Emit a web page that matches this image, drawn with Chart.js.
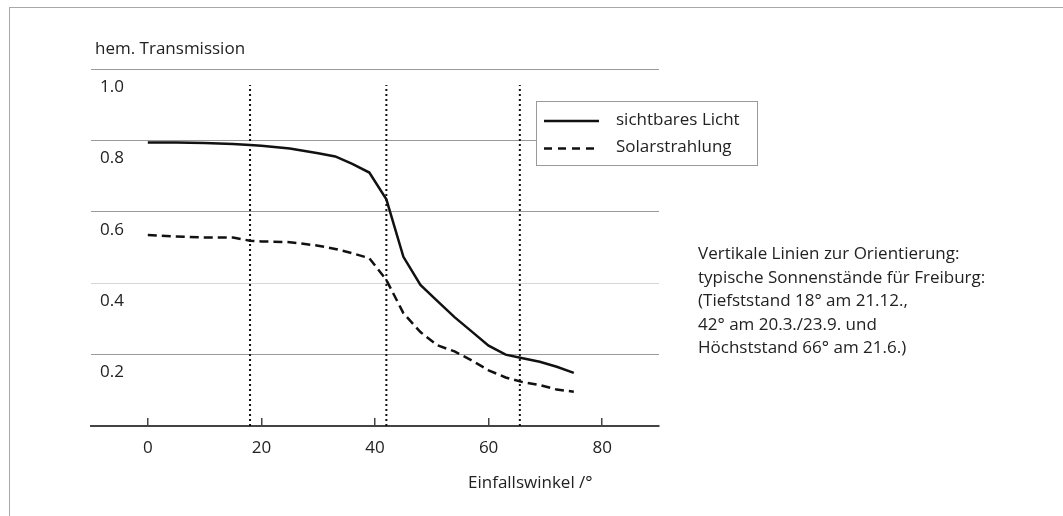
<!DOCTYPE html>
<html lang="de">
<head>
  <meta charset="UTF-8">
  <title>Hemisphärische Transmission</title>
  <script src="https://cdn.jsdelivr.net/npm/chart.js"></script>
  <style>
    html, body { margin: 0; padding: 0; background: #fff; overflow: hidden; }
    body { width: 1063px; height: 516px; position: relative; font-family: "Open Sans", sans-serif; color: #222; }
    #rahmen { position: absolute; left: 9px; top: 7px; width: 1100px; height: 600px;
              border-top: 1px solid #a8a8a8; border-left: 1px solid #a8a8a8; }
    #diagramm { position: absolute; left: 0; top: 0; }
    .txt { position: absolute; font-size: 17px; line-height: 22px; white-space: nowrap; color: #222; }
    #hinweis { line-height: 23.5px; }
  </style>
</head>
<body>
  <div id="rahmen"></div>
  <canvas id="diagramm" width="1063" height="516"></canvas>
  <div class="txt" style="left:95px; top:37px;">hem. Transmission</div>
  <div class="txt" style="left:468px; top:471px;">Einfallswinkel /°</div>
  <div class="txt" id="hinweis" style="left:698px; top:241px;">
    Vertikale Linien zur Orientierung:<br>
    typische Sonnenstände für Freiburg:<br>
    (Tiefststand 18° am 21.12.,<br>
    42° am 20.3./23.9. und<br>
    Höchststand 66° am 21.6.)
  </div>

  <script>
    // Werte
    const winkel      = [0, 5, 10, 15, 18, 20, 25, 30, 33, 36, 39, 42, 45, 48, 51, 54, 57, 60, 63, 66, 69, 72, 75];
    const lichtWerte  = [0.794, 0.794, 0.793, 0.790, 0.787, 0.785, 0.777, 0.764, 0.755, 0.734, 0.710, 0.635, 0.474, 0.395, 0.350, 0.305, 0.265, 0.225, 0.200, 0.190, 0.180, 0.166, 0.149];
    const solarWerte  = [0.535, 0.531, 0.528, 0.528, 0.519, 0.517, 0.515, 0.505, 0.496, 0.484, 0.470, 0.409, 0.316, 0.263, 0.226, 0.209, 0.184, 0.156, 0.136, 0.123, 0.115, 0.102, 0.096];
    const sonnenstaende = [18, 42, 65.5];
    const markerOben  = 0.955;
    const serienNamen = ['sichtbares Licht', 'Solarstrahlung'];
    const xTicks = [0, 20, 40, 60, 80];
    const yTicks = [0, 0.2, 0.4, 0.6, 0.8, 1.0];

    Chart.defaults.font.family = '"Open Sans", sans-serif';
    Chart.defaults.color = '#222';

    // Legende als Kasten über dem Diagramm
    const legendeKasten = {
      id: 'legendeKasten',
      afterDatasetsDraw(chart) {
        const ctx = chart.ctx;
        ctx.save();
        ctx.fillStyle = '#fff';
        ctx.fillRect(536, 101, 222, 65);
        ctx.strokeStyle = '#9a9a9a';
        ctx.lineWidth = 1;
        ctx.strokeRect(536.5, 101.5, 221, 64);
        chart.data.datasets.slice(0, 2).forEach((ds, i) => {
          const y = 121 + i * 27.5;
          ctx.strokeStyle = ds.borderColor;
          ctx.lineWidth = ds.borderWidth;
          ctx.setLineDash(i ? [8, 6] : []);
          ctx.beginPath();
          ctx.moveTo(544, y);
          ctx.lineTo(i ? 594 : 599, y);
          ctx.stroke();
          ctx.setLineDash([]);
          ctx.fillStyle = '#222';
          ctx.font = '17px "Open Sans", sans-serif';
          ctx.textBaseline = 'middle';
          ctx.fillText(ds.label, 616, y - 1);
        });
        ctx.restore();
      }
    };

    const senkrechte = sonnenstaende.map(w => ({
      label: w + '°',
      data: [{ x: w, y: 0 }, { x: w, y: markerOben }],
      borderColor: '#111',
      borderWidth: 2,
      borderDash: [2, 3],
      pointRadius: 0
    }));

    new Chart(document.getElementById('diagramm'), {
      type: 'line',
      data: {
        datasets: [
          {
            label: serienNamen[0],
            data: winkel.map((w, i) => ({ x: w, y: lichtWerte[i] })),
            borderColor: '#111',
            borderWidth: 2.5,
            pointRadius: 0,
            tension: 0
          },
          {
            label: serienNamen[1],
            data: winkel.map((w, i) => ({ x: w, y: solarWerte[i] })),
            borderColor: '#111',
            borderWidth: 2.5,
            borderDash: [9, 5],
            pointRadius: 0,
            tension: 0
          },
          ...senkrechte
        ]
      },
      options: {
        responsive: false,
        animation: false,
        layout: { padding: { left: 91, right: 404, top: 69, bottom: 50 } },
        plugins: { legend: { display: false }, tooltip: { enabled: false } },
        scales: {
          x: {
            type: 'linear',
            min: -10,
            max: 90,
            afterBuildTicks: s => { s.ticks = xTicks.map(v => ({ value: v })); },
            afterFit: s => { s.height = 40; },
            grid: { drawOnChartArea: false, drawTicks: true, tickLength: -8, color: '#444', lineWidth: 1.5 },
            border: { display: true, color: '#444', width: 2 },
            ticks: { padding: 20, font: { size: 17 }, maxRotation: 0, autoSkip: false }
          },
          y: {
            min: 0,
            max: 1,
            afterBuildTicks: s => { s.ticks = yTicks.map(v => ({ value: v })); },
            afterFit: s => { s.width = 0; },
            grid: {
              drawTicks: false,
              color: c => c.tick.value === 0 ? '#444' : (Math.abs(c.tick.value - 0.4) < 1e-6 ? '#d6d6d6' : '#9a9a9a'),
              lineWidth: c => c.tick.value === 0 ? 2 : 1
            },
            border: { display: false },
            ticks: {
              mirror: true,
              padding: 9,
              labelOffset: 18,
              font: { size: 17 },
              autoSkip: false,
              callback: v => v === 0 ? '' : v.toFixed(1)
            }
          }
        }
      },
      plugins: [legendeKasten]
    });
  </script>
</body>
</html>
